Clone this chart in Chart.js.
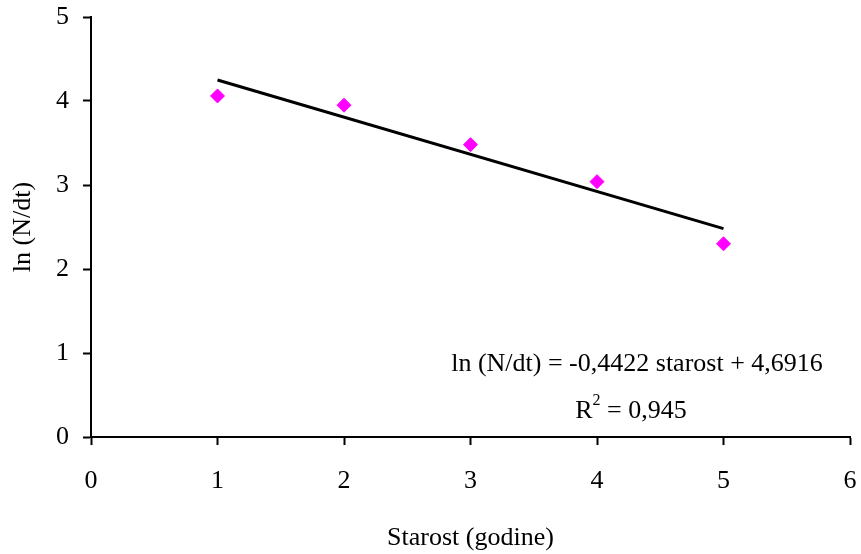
<!DOCTYPE html>
<html>
<head>
<meta charset="utf-8">
<script src="https://cdn.jsdelivr.net/npm/chart.js@4/dist/chart.umd.min.js"></script>
<style>
  html, body { margin: 0; padding: 0; background: #fff; }
  #wrap { width: 861px; height: 554px; }
</style>
</head>
<body>
<div id="wrap"><canvas id="grafik" width="861" height="554"></canvas></div>
<script>
const starost = [1, 2, 3, 4, 5];
const lnNdt = [4.06, 3.95, 3.48, 3.04, 2.30];
const slope = -0.4422;
const intercept = 4.6916;
const rSquared = '0,945';
const xTicks = [0, 1, 2, 3, 4, 5, 6];
const yTicks = [0, 1, 2, 3, 4, 5];

const font = '"Liberation Serif", "Times New Roman", serif';

const trend = [starost[0], starost[starost.length - 1]].map(x => ({ x: x, y: slope * x + intercept }));

const equationText = {
  id: 'equationText',
  afterDraw(chart) {
    const ctx = chart.ctx;
    const a = chart.chartArea;
    ctx.save();
    ctx.fillStyle = '#000';
    ctx.font = '26px ' + font;
    ctx.textAlign = 'center';
    ctx.textBaseline = 'middle';
    ctx.fillText('ln (N/dt) = -0,4422 starost + 4,6916', a.left + 546, a.top + 347);
    // R² z eksponentom
    const base = 'R';
    const rest = ' = ' + rSquared;
    const wR = ctx.measureText(base).width;
    ctx.font = '16px ' + font;
    const wS = ctx.measureText('2').width;
    ctx.font = '26px ' + font;
    const wRest = ctx.measureText(rest).width;
    const total = wR + wS + wRest;
    const x = a.left + 540 - total / 2;
    const y = a.top + 394;
    ctx.textAlign = 'left';
    ctx.fillText(base, x, y);
    ctx.font = '16px ' + font;
    ctx.fillText('2', x + wR, y - 10);
    ctx.font = '26px ' + font;
    ctx.fillText(rest, x + wR + wS, y);
    ctx.restore();
  }
};

new Chart(document.getElementById('grafik').getContext('2d'), {
  type: 'scatter',
  data: {
    datasets: [
      {
        type: 'line',
        data: trend,
        borderColor: '#000',
        borderWidth: 3,
        pointRadius: 0,
        fill: false
      },
      {
        data: starost.map((x, i) => ({ x: x, y: lnNdt[i] })),
        pointStyle: 'rectRot',
        pointRadius: 7,
        pointHoverRadius: 7,
        backgroundColor: '#ff00ff',
        borderColor: '#ff00ff',
        borderWidth: 1
      }
    ]
  },
  options: {
    responsive: false,
    animation: false,
    layout: { padding: { top: 17, right: 11, left: 0, bottom: 0 } },
    plugins: { legend: { display: false }, tooltip: { enabled: false } },
    scales: {
      x: {
        type: 'linear',
        min: 0,
        max: 6,
        afterBuildTicks: s => { s.ticks = xTicks.map(v => ({ value: v })); },
        afterFit: s => { s.height = 117; s.paddingLeft = 0; s.paddingRight = 0; },
        border: { color: '#000', width: 2 },
        grid: { drawOnChartArea: false, drawTicks: true, tickLength: 8, tickColor: '#000', tickWidth: 2 },
        ticks: { color: '#000', font: { family: font, size: 26 }, padding: 21, maxRotation: 0 },
        title: { display: true, text: 'Starost (godine)', color: '#000', font: { family: font, size: 26 }, padding: { top: 0, bottom: 0 } }
      },
      y: {
        min: 0,
        max: 5,
        afterBuildTicks: s => { s.ticks = yTicks.map(v => ({ value: v })); },
        afterFit: s => { s.width = 91; s.paddingTop = 0; s.paddingBottom = 0; },
        border: { color: '#000', width: 2 },
        grid: { drawOnChartArea: false, drawTicks: true, tickLength: 8, tickColor: '#000', tickWidth: 2 },
        ticks: { color: '#000', font: { family: font, size: 26 }, padding: 14 },
        title: { display: true, text: 'ln (N/dt)', color: '#000', font: { family: font, size: 26 }, padding: { top: 8, bottom: 0 } }
      }
    }
  },
  plugins: [equationText]
});
</script>
</body>
</html>
